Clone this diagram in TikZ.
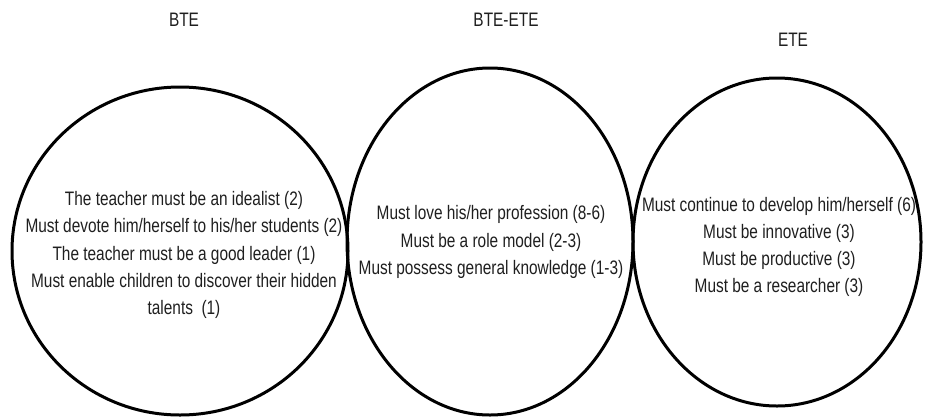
\documentclass[tikz,border=0pt]{standalone}
\usepackage{fontspec}
\setmainfont[FakeStretch=0.79]{Liberation Sans}
\usetikzlibrary{shapes.geometric}

\begin{document}
\begin{tikzpicture}[x=1pt, y=-1pt,
  ring/.style={draw=black, ellipse, line width=3pt, inner sep=0pt, outer sep=0pt},
  heading/.style={text=black!88, inner sep=0pt, font=\fontsize{19.5}{23}\selectfont},
  itemlist/.style={text=black!88, inner sep=0pt, align=center,
    font=\fontsize{19.5}{27.2}\selectfont}]

  % page area
  \fill[white] (0,0) rectangle (925,418);
  \useasboundingbox (0,0) rectangle (925,418);

  % the three ellipses
  \node[ring, minimum width=336pt, minimum height=328pt] (bte) at (180,251) {};
  \node[ring, minimum width=286pt, minimum height=347pt] (both) at (490,241.5) {};
  \node[ring, minimum width=288pt, minimum height=328pt] (ete) at (777,242) {};

  % headings
  \node[heading] (bteTitle)  at (184,20) {BTE};
  \node[heading] (bothTitle) at (506,20) {BTE-ETE};
  \node[heading] (eteTitle)  at (793,40) {ETE};

  % contents of each ellipse
  \node[itemlist] (bteItems) at (184,255) {%
    The teacher must be an idealist (2)\\
    Must devote him/herself to his/her students (2)\\
    The teacher must be a good leader (1)\\
    Must enable children to discover their hidden\\
    talents~~(1)};

  \node[itemlist] (bothItems) at (491,242) {%
    Must love his/her profession (8-6)\\
    Must be a role model (2-3)\\
    Must possess general knowledge (1-3)};

  \node[itemlist] (eteItems) at (779,247) {%
    Must continue to develop him/herself (6)\\
    Must be innovative (3)\\
    Must be productive (3)\\
    Must be a researcher (3)};
\end{tikzpicture}
\end{document}
